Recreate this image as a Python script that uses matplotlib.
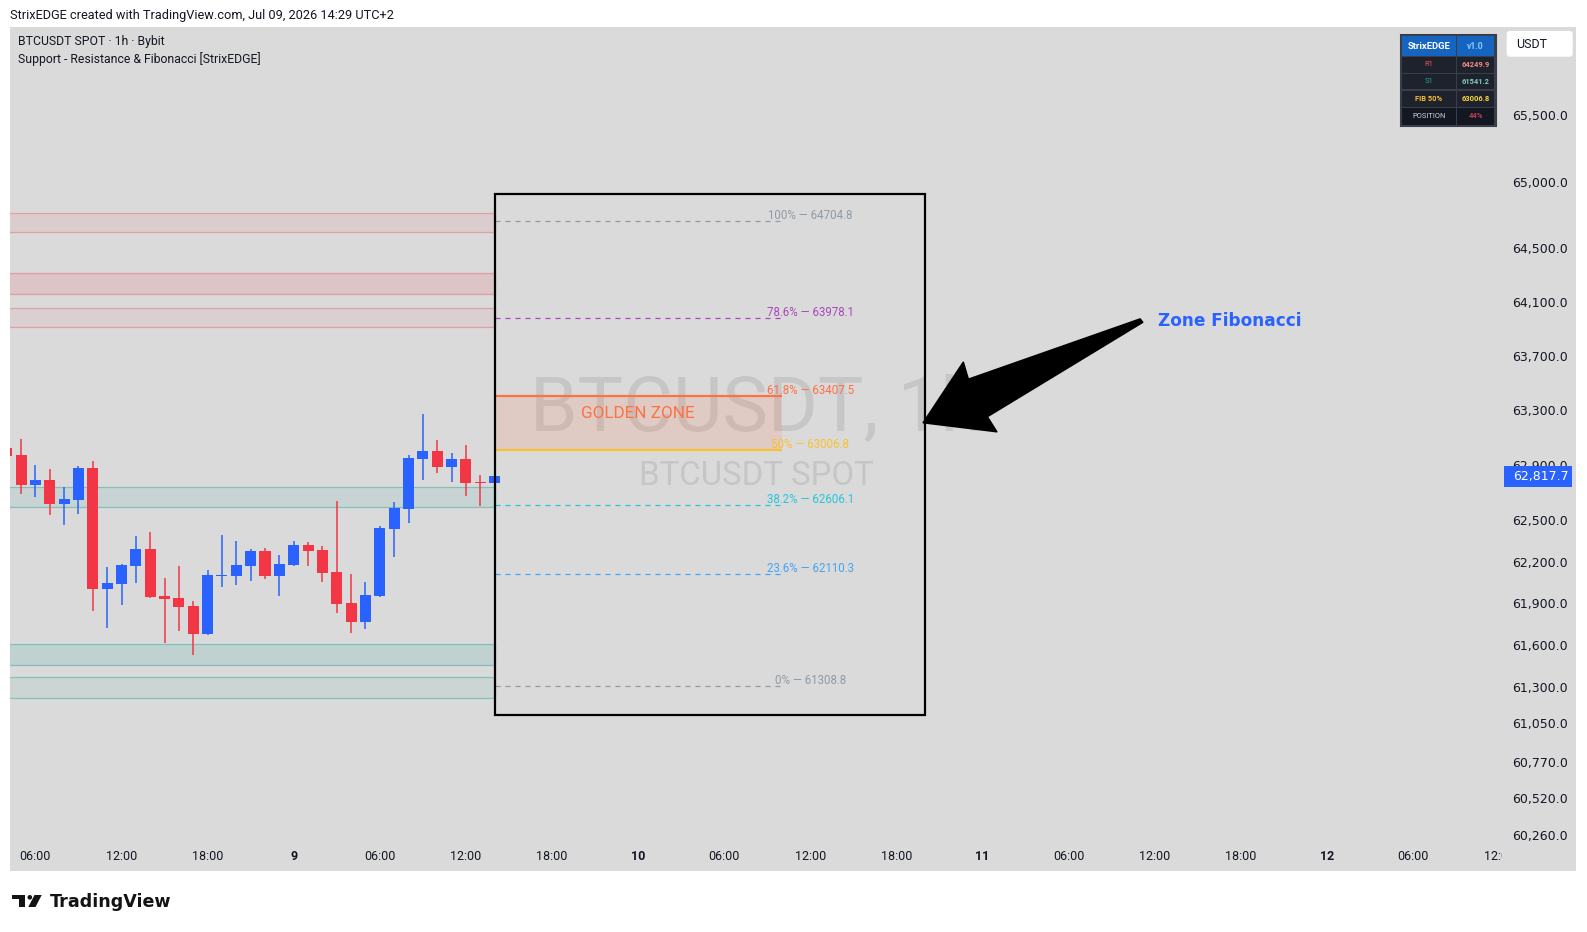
import matplotlib
matplotlib.use("Agg")
import matplotlib.pyplot as plt
from matplotlib.patches import Rectangle, Polygon, FancyBboxPatch, Circle
from matplotlib.transforms import Affine2D, Bbox, TransformedBbox
from matplotlib.ticker import FixedLocator, NullLocator, NullFormatter

W, H = 1587, 932

# ---------------- data ----------------
# candle times: hours since Jul 8 00:00
hours = list(range(4, 39))
opens = [63026, 62973, 62754, 62790, 62616, 62645, 62878, 62002, 62038, 62168,
         62291, 61952, 61938, 61880, 61680, 62096, 62096, 62168, 62276, 62096,
         62175, 62319, 62283, 62125, 61902, 61766, 61952, 62435, 62580, 62943,
         63002, 62885, 62943, 62776, 62769]
highs = [63097, 63089, 62900, 62871, 62740, 62892, 62929, 62161, 62182, 62384,
         62413, 62081, 62168, 61916, 62139, 62392, 62348, 62291, 62298, 62247,
         62348, 62341, 62312, 62638, 62110, 62053, 62457, 62631, 62973, 63273,
         63082, 62987, 63046, 62827, 62871]
lows = [62955, 62689, 62667, 62536, 62464, 62544, 61845, 61723, 61888, 62045,
        61940, 61616, 61701, 61530, 61673, 62017, 62031, 62060, 62074, 61952,
        62168, 62168, 62053, 61830, 61687, 61716, 61945, 62233, 62478, 62790,
        62841, 62776, 62674, 62602, 62592]
closes = [62968, 62754, 62790, 62616, 62652, 62878, 62002, 62045, 62175, 62291,
          61945, 61931, 61873, 61680, 62103, 62103, 62175, 62276, 62096, 62182,
          62319, 62276, 62118, 61895, 61766, 61959, 62442, 62587, 62951, 63002,
          62885, 62943, 62769, 62771, 62817.7]
last_price = 62817.7

fib_levels = ["100%", "78.6%", "61.8%", "50%", "38.2%", "23.6%", "0%"]
fib_prices = [64704.8, 63978.1, 63407.5, 63006.8, 62606.1, 62110.3, 61308.8]
fib_colors = ["#8d9ca6", "#ab47bc", "#ff7043", "#fbc02d", "#26c6da", "#42a5f5", "#8d9ca6"]

res_low = [64622, 64162, 63913]
res_high = [64767, 64312, 64056]
res_alpha = [0.08, 0.13, 0.06]
sup_low = [62595, 61459, 61222]
sup_high = [62740, 61609, 61373]
sup_alpha = [0.10, 0.15, 0.08]

price_ticks = [65500, 65000, 64500, 64100, 63700, 63300, 62900, 62500, 62200,
               61900, 61600, 61300, 61050, 60770, 60520, 60260]
time_ticks = list(range(6, 109, 6))

table_labels = ["StrixEDGE", "R1", "S1", "FIB 50%", "POSITION"]
table_values = ["v1.0", "64249.9", "61541.2", "63006.8", "44%"]

# annotation arrow outline (time, price)
arrow_t = [82.98, 71.01, 70.66, 67.87, 72.99, 72.33, 83.16]
arrow_p = [63972.8, 63527.4, 63652.6, 63208.7, 63142.8, 63252.6, 63948.3]

# ---------------- figure ----------------
plt.rcParams['font.family'] = ['Roboto', 'DejaVu Sans']
fig = plt.figure(figsize=(W / 100, H / 100), dpi=100)
fig.patch.set_facecolor('white')
pix = Affine2D().scale(1 / W, -1 / H).translate(0, 1) + fig.transFigure

fig.add_artist(Rectangle((10.1, 27.3), 1565.9, 843.7, transform=pix,
                         facecolor='#dadada', edgecolor='none', zorder=-5))

ax = fig.add_axes([10.1 / W, 1 - 840 / H, (1502 - 10.1) / W, (840 - 27.3) / H])
ax.set_facecolor('none')
for s in ax.spines.values():
    s.set_visible(False)
ax.set_yscale('log')
ax.set_xlim(4.237, 108.2)
ax.set_ylim(60225, 66172)

# watermark
ax.text(0.5, 0.529, "BTCUSDT, 1h", transform=ax.transAxes, ha='center', va='center',
        fontsize=55, color='#c6c6c6', zorder=0.5)
ax.text(0.5, 0.448, "BTCUSDT SPOT", transform=ax.transAxes, ha='center', va='center',
        fontsize=23.8, color='#c6c6c6', zorder=0.5)

box_left, box_right, line_end, label_x = 38, 68, 58, 60

# S/R zones
red = (0.949, 0.212, 0.271)
teal = (0.149, 0.651, 0.604)
for lo, hi, a in zip(res_low, res_high, res_alpha):
    ax.add_patch(Rectangle((0, lo), box_left, hi - lo, facecolor=red + (a,),
                           edgecolor=red + (0.33,), lw=0.9, zorder=1))
for lo, hi, a in zip(sup_low, sup_high, sup_alpha):
    ax.add_patch(Rectangle((0, lo), box_left, hi - lo, facecolor=teal + (a,),
                           edgecolor=teal + (0.45,), lw=0.9, zorder=1))

# candles
up_c, dn_c = '#2962ff', '#f23645'
for t, o, h, l, c in zip(hours, opens, highs, lows, closes):
    col = up_c if c >= o else dn_c
    ax.vlines(t, l, h, color=col, lw=1.1, zorder=3)
    ax.bar(t, max(abs(c - o), 8), bottom=min(o, c), width=0.77, color=col,
           linewidth=0, zorder=4)

# fibonacci
rng = fib_prices[0] - fib_prices[-1]
box_hi = fib_prices[0] + 0.06 * rng
box_lo = fib_prices[-1] - 0.06 * rng
ax.add_patch(Rectangle((box_left, box_lo), box_right - box_left, box_hi - box_lo,
                       facecolor='none', edgecolor='black', lw=1.6, zorder=5))
gz_hi, gz_lo = fib_prices[2], fib_prices[3]
ax.add_patch(Rectangle((box_left, gz_lo), line_end - box_left, gz_hi - gz_lo,
                       facecolor=(1.0, 0.44, 0.26, 0.14), edgecolor='none', zorder=2))
ax.text((box_left + line_end) / 2, gz_hi - 0.32 * (gz_hi - gz_lo), "GOLDEN ZONE",
        ha='center', va='center', color='#ff7043', fontsize=12.3, zorder=6)
for lab, p, col in zip(fib_levels, fib_prices, fib_colors):
    solid = lab in ("61.8%", "50%")
    ax.hlines(p, box_left, line_end, colors=col, lw=1.6 if solid else 0.9,
              linestyles='-' if solid else (0, (4, 4)), zorder=4)
    ax.annotate(f"{lab} — {p:.1f}", xy=(label_x, p), xytext=(0, -0.8),
                textcoords='offset points', ha='center', va='bottom',
                color=col, fontsize=8.3, zorder=6)

# arrow + note
ax.add_patch(Polygon(list(zip(arrow_t, arrow_p)), closed=True, facecolor='black',
                     edgecolor='black', lw=1.2, joinstyle='round', zorder=7))
ax.text(84.25, 63960, "Zone Fibonacci", ha='left', va='center', color='#2962ff',
        fontsize=12.2, fontweight='bold', fontfamily='DejaVu Sans', zorder=7)

# axes ticks
ax.yaxis.tick_right()
ax.yaxis.set_major_locator(FixedLocator(price_ticks))
ax.yaxis.set_minor_locator(NullLocator())
ax.yaxis.set_minor_formatter(NullFormatter())
ax.set_yticklabels([f"{v:,.1f}" for v in price_ticks], fontfamily='DejaVu Sans')
ax.tick_params(axis='y', length=0, pad=7.2, labelsize=9, labelcolor='#131722')

def tlabel(t):
    return str(8 + t // 24) if t % 24 == 0 else f"{t % 24:02d}:00"

ax.set_xticks(time_ticks)
ax.set_xticklabels([tlabel(t) for t in time_ticks])
ax.tick_params(axis='x', length=0, pad=7, labelsize=9, labelcolor='#131722')
for t, lb in zip(time_ticks, ax.get_xticklabels()):
    if t % 24 == 0:
        lb.set_fontweight('bold')
clipbox = TransformedBbox(Bbox.from_extents(0, 0, 1502 / W, 1), fig.transFigure)
lastlab = ax.get_xticklabels()[-1]
lastlab.set_clip_on(True)
lastlab.set_clip_box(clipbox)

# current price label
y_disp = ax.transData.transform((50, last_price))[1]
y_top = H - y_disp
fig.add_artist(Rectangle((1504, y_top - 10.5), 68.3, 21, transform=pix,
                         facecolor='#2962ff', edgecolor='none', zorder=5))
fig.text(1512.7, y_top, f"{last_price:,.1f}", transform=pix, ha='left', va='center',
         color='white', fontsize=9, fontfamily='DejaVu Sans', zorder=6)

# header / legend
fig.text(10.1, 15.3, "StrixEDGE created with TradingView.com, Jul 09, 2026 14:29 UTC+2",
         transform=pix, ha='left', va='center', fontsize=9.15, color='#131722')
fig.text(18.2, 42, "BTCUSDT SPOT · 1h · Bybit", transform=pix, ha='left',
         va='center', fontsize=8.85, color='#131722')
fig.text(18.2, 59.2, "Support - Resistance & Fibonacci [StrixEDGE]", transform=pix,
         ha='left', va='center', fontsize=8.85, color='#131722')

# USDT button
fig.add_artist(FancyBboxPatch((1506.7, 31), 66, 25.7, transform=pix,
                              boxstyle='round,pad=0,rounding_size=3',
                              facecolor='white', edgecolor='none', zorder=5))
fig.text(1515.7, 44.3, "USDT", transform=pix, ha='left', va='center', fontsize=9,
         color='#131722', zorder=6)

# info table
tx0, tx1, tx2 = 1401.5, 1456.3, 1495
ty = [35.5, 56.7, 73.3, 90, 107.3, 125.2]
row_bg = ['#1565c0', '#1e222d', '#1e222d', '#1e222d', '#131722']
lab_col = ['white', '#ef5350', '#26a69a', '#fbc02d', '#d1d4dc']
val_col = ['#90caf9', '#f28b82', '#80cbc4', '#fdd835', '#c0424d']
fig.add_artist(Rectangle((tx0 - 1, ty[0] - 1), tx2 - tx0 + 2, ty[-1] - ty[0] + 2,
                         transform=pix, facecolor='#3a3e4a', edgecolor='#3a3e4a',
                         lw=1.5, zorder=5))
for i in range(5):
    for (xa, xb) in ((tx0, tx1), (tx1, tx2)):
        fig.add_artist(Rectangle((xa + 0.6, ty[i] + 0.6), xb - xa - 1.2,
                                 ty[i + 1] - ty[i] - 1.2, transform=pix,
                                 facecolor=row_bg[i], edgecolor='none', zorder=5.5))
    yc = (ty[i] + ty[i + 1]) / 2
    fs = 6.8 if i == 0 else 5.4
    fw = 'bold' if i in (0, 3) else 'normal'
    fig.text((tx0 + tx1) / 2, yc, table_labels[i], transform=pix, ha='center',
             va='center', fontsize=fs, color=lab_col[i], fontweight=fw, zorder=6)
    fig.text((tx1 + tx2) / 2, yc, table_values[i], transform=pix, ha='center',
             va='center', fontsize=6.2 if i == 0 else 5.4, color=val_col[i],
             fontweight='bold', zorder=6)

# TradingView logo
fig.add_artist(Polygon([(12.3, 895), (25, 895), (25, 907), (19, 907), (19, 899),
                        (12.3, 899)], closed=True, transform=pix, facecolor='#131313',
                       edgecolor='none', zorder=5))
fig.add_artist(Circle((29.8, 897.3), 2.3, transform=pix, facecolor='#131313',
                      edgecolor='none', zorder=5))
fig.add_artist(Polygon([(34.5, 895), (41.7, 895), (35.5, 907), (28.3, 907)],
                       closed=True, transform=pix, facecolor='#131313',
                       edgecolor='none', zorder=5))
fig.text(50, 902, "TradingView", transform=pix, ha='left', va='center',
         fontsize=12.6, fontweight='bold', fontfamily='DejaVu Sans',
         color='#131313', zorder=5)

fig.savefig('out.png', dpi=100)
